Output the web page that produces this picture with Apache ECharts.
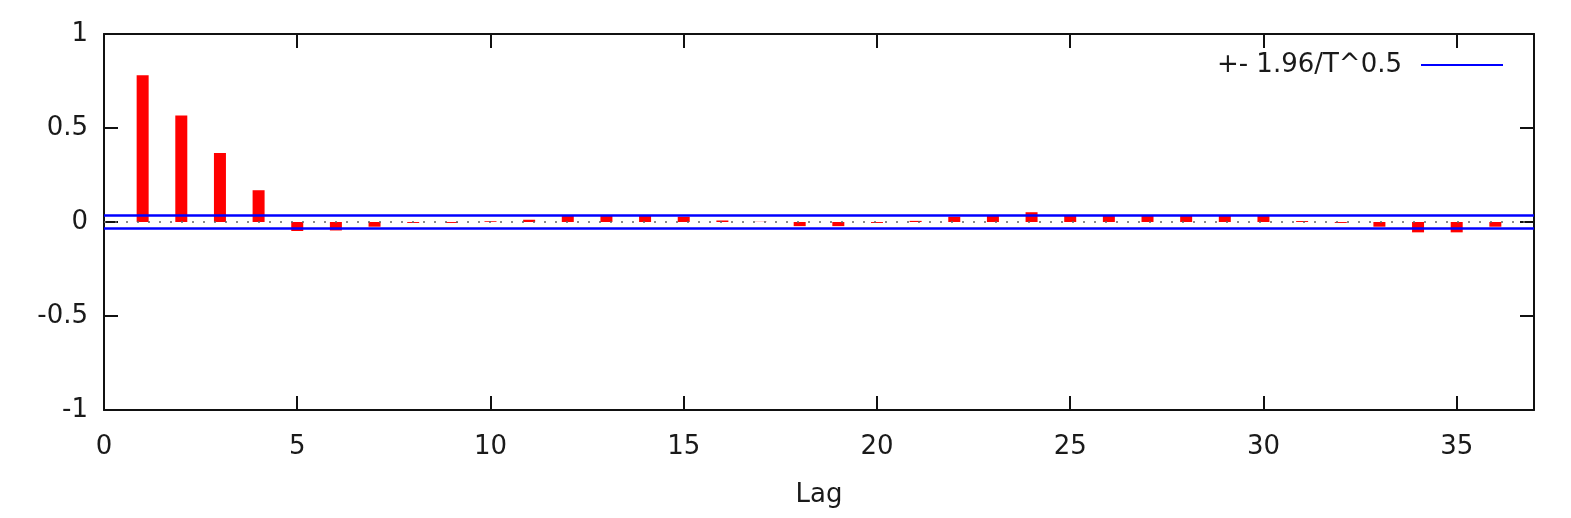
<!DOCTYPE html>
<html>
<head>
<meta charset="utf-8">
<script src="https://cdn.jsdelivr.net/npm/echarts@6/dist/echarts.min.js"></script>
<style>html,body{margin:0;padding:0;background:#fff;}#c{width:1571px;height:518px;}</style>
</head>
<body>
<div id="c"></div>
<script>
// Data
const lags = [1,2,3,4,5,6,7,8,9,10,11,12,13,14,15,16,17,18,19,20,21,22,23,24,25,26,27,28,29,30,31,32,33,34,35,36];
const acf  = [0.78,0.567,0.367,0.169,-0.048,-0.045,-0.025,-0.005,-0.005,0.004,0.012,0.032,0.032,0.032,0.028,0.008,0.001,-0.022,-0.022,-0.005,0.006,0.028,0.037,0.052,0.037,0.037,0.037,0.037,0.037,0.037,0.005,-0.005,-0.025,-0.055,-0.055,-0.025];
const band = 0.034;
const xRange = [0, 37];
const yRange = [-1, 1];
const bandName = '+- 1.96/T^0.5';
const xName = 'Lag';

const font = 'DejaVu Sans';
const fs = 26;
const txt = '#1a1a1a';
const axisCol = '#111';

const chart = echarts.init(document.getElementById('c'), null, {renderer: 'canvas'});
const xBase = {
  type: 'value', min: xRange[0], max: xRange[1], interval: 5,
  axisTick: {show: true, inside: true, length: 14, lineStyle: {color: axisCol, width: 2}},
  splitLine: {show: false}
};
const yBase = {
  type: 'value', min: yRange[0], max: yRange[1], interval: 0.5,
  axisLine: {show: true, onZero: false, lineStyle: {color: axisCol, width: 2}},
  axisTick: {show: true, inside: true, length: 14, lineStyle: {color: axisCol, width: 2}},
  splitLine: {show: false}
};
chart.setOption({
  animation: false,
  grid: {left: 104, right: 37, top: 34, bottom: 108, containLabel: false},
  legend: {
    data: [bandName], right: 63, top: 47, align: 'right',
    icon: 'rect', itemWidth: 82, itemHeight: 2,
    textStyle: {fontFamily: font, fontSize: fs, color: txt, padding: [0, 14, 0, 0]}
  },
  xAxis: [
    Object.assign({}, xBase, {
      position: 'bottom',
      axisLine: {show: true, onZero: false, lineStyle: {color: axisCol, width: 2}},
      axisLabel: {show: true, showMaxLabel: false, margin: 24, fontFamily: font, fontSize: fs, color: txt},
      name: xName, nameLocation: 'middle', nameGap: 72,
      nameTextStyle: {fontFamily: font, fontSize: fs, color: txt}
    }),
    Object.assign({}, xBase, {
      position: 'top',
      axisLine: {show: true, onZero: false, lineStyle: {color: axisCol, width: 2}},
      axisLabel: {show: false}
    })
  ],
  yAxis: [
    Object.assign({}, yBase, {
      position: 'left',
      axisLabel: {show: true, margin: 16, fontFamily: font, fontSize: fs, color: txt}
    }),
    Object.assign({}, yBase, {
      position: 'right',
      axisLabel: {show: false}
    })
  ],
  series: [
    {
      type: 'bar', name: 'acf', xAxisIndex: 0, yAxisIndex: 0,
      barWidth: 12, itemStyle: {color: '#ff0000'},
      data: lags.map((l, i) => [l, acf[i]]), z: 2
    },
    {
      type: 'line', name: 'zero', xAxisIndex: 0, yAxisIndex: 0,
      symbol: 'none', silent: true,
      lineStyle: {color: '#666', width: 1.5, type: [2, 9]},
      data: [[xRange[0], 0], [xRange[1], 0]], z: 3
    },
    {
      type: 'line', name: bandName, xAxisIndex: 0, yAxisIndex: 0,
      symbol: 'none', itemStyle: {color: '#0000ff'},
      lineStyle: {color: '#0000ff', width: 2.5},
      data: [[xRange[0], band], [xRange[1], band]], z: 4
    },
    {
      type: 'line', name: bandName, xAxisIndex: 0, yAxisIndex: 0,
      symbol: 'none', itemStyle: {color: '#0000ff'},
      lineStyle: {color: '#0000ff', width: 2.5},
      data: [[xRange[0], -band], [xRange[1], -band]], z: 4
    }
  ]
});
</script>
</body>
</html>
